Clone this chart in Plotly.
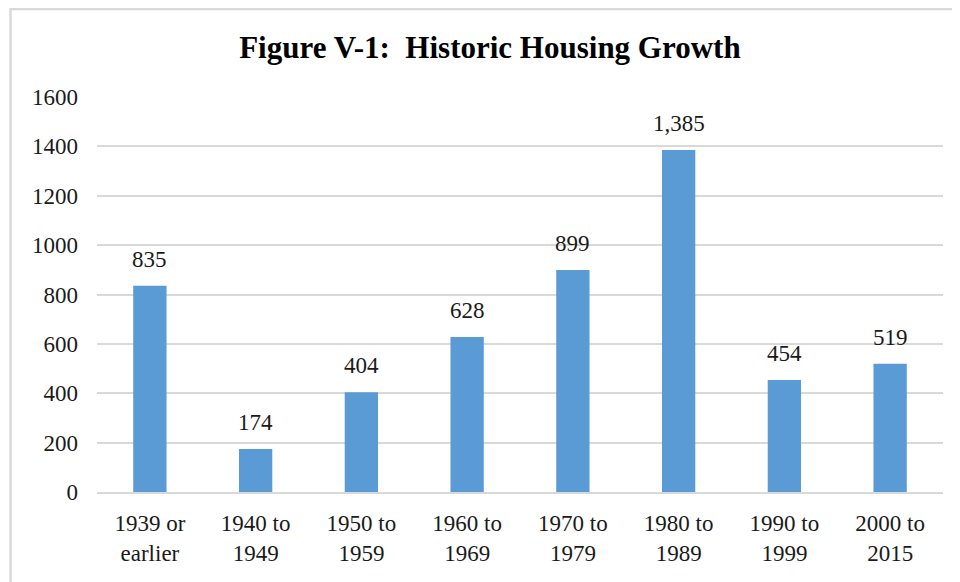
import plotly.graph_objects as go

categories = ["1939 or<br>earlier", "1940 to<br>1949", "1950 to<br>1959", "1960 to<br>1969",
              "1970 to<br>1979", "1980 to<br>1989", "1990 to<br>1999", "2000 to<br>2015"]
values = [835, 174, 404, 628, 899, 1385, 454, 519]
y_ticks = [0, 200, 400, 600, 800, 1000, 1200, 1400, 1600]
title_text = "Figure V-1:  Historic Housing Growth"

FONT = "Liberation Serif"
BAR = "#5b9bd5"
GRID = "#d9d9d9"
TXT = "#1a1a1a"

fig = go.Figure()
fig.add_trace(go.Bar(x=categories, y=values, marker=dict(color=BAR, line=dict(width=0)),
                     width=0.315, hoverinfo="skip"))

for c, v in zip(categories, values):
    fig.add_annotation(x=c, y=v, text=f"{v:,}", showarrow=False, yanchor="bottom",
                       yshift=12, font=dict(family=FONT, size=23, color=TXT))

fig.update_layout(
    width=960, height=582,
    margin=dict(l=89, r=25, t=89, b=98),
    paper_bgcolor="white", plot_bgcolor="white",
    showlegend=False,
    title=dict(text=f"<b>{title_text}</b>", x=0.502, xanchor="center", y=0.933, yanchor="middle",
               font=dict(family=FONT, size=31, color="black")),
    font=dict(family=FONT, size=23, color=TXT),
)
fig.update_xaxes(showgrid=False, showline=True, linecolor=GRID, linewidth=1.5,
                 ticks="", tickfont=dict(family=FONT, size=23, color=TXT),
                 ticklabelstandoff=10)
fig.update_yaxes(range=[0, 1600], tickvals=y_ticks, showgrid=True, gridcolor=GRID, gridwidth=1.5,
                 zeroline=False, showline=False, ticks="",
                 tickfont=dict(family=FONT, size=23, color=TXT), ticklabelstandoff=18)

# outer chart border (only top and left visible in the frame)
fig.add_shape(type="rect", xref="paper", yref="paper", x0=-0.1022, x1=1.2, y0=-0.5, y1=1.2228,
              line=dict(color=GRID, width=2.5), layer="below")

fig.write_html("out.html")
